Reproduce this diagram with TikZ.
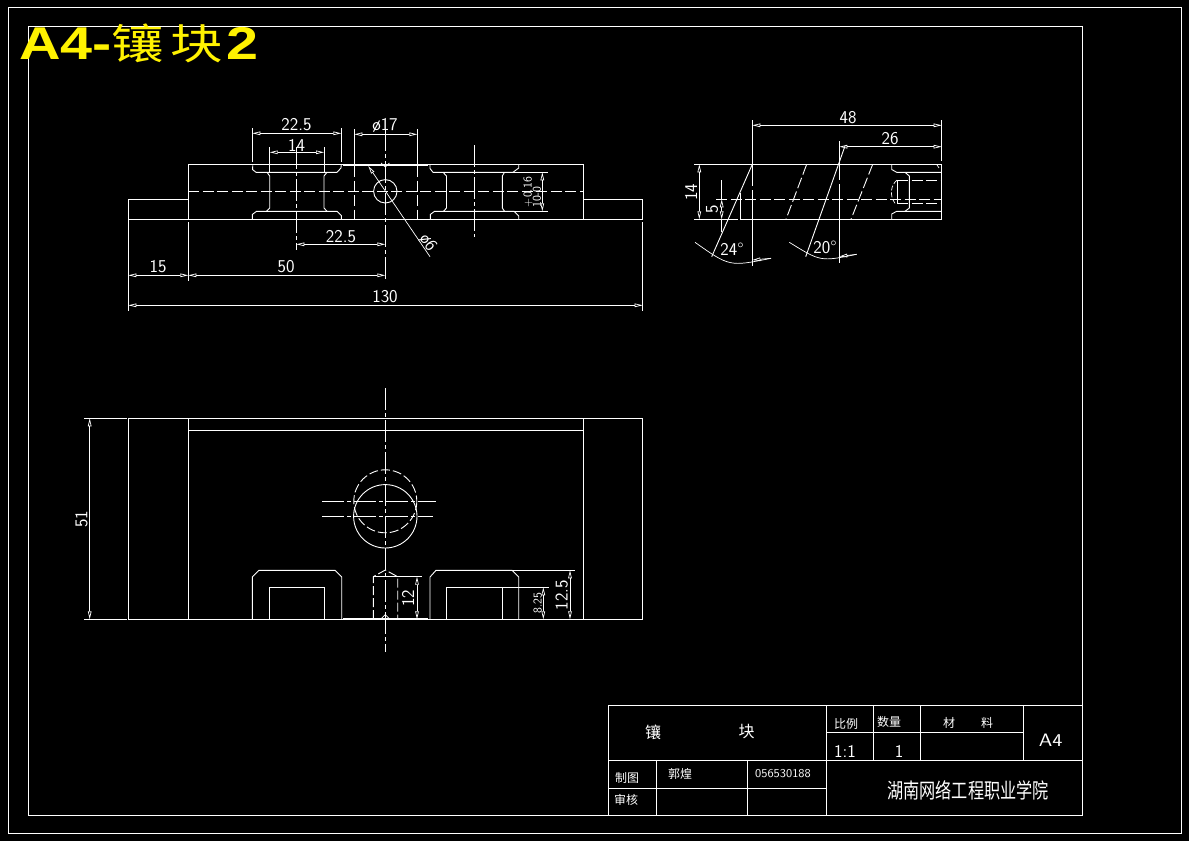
\documentclass[tikz,border=0pt]{standalone}
\usepackage{fontspec}
\usetikzlibrary{arrows.meta}
\newfontfamily\cjk{Noto Sans CJK SC}
\newfontfamily\cjkb{Noto Sans CJK SC}[BoldFont={Noto Sans CJK SC Bold}]
\newfontfamily\tibold{Liberation Sans Bold}
\setsansfont{Latin Modern Sans}
\tikzset{
  ln/.style={draw=white,line width=0.9pt},
  thin ln/.style={draw=white,line width=0.7pt},
  dsh/.style={ln,dash pattern=on 11pt off 3.5pt},
  ctr/.style={ln,dash pattern=on 22pt off 3pt on 4pt off 3pt},
  dim/.style={thin ln,{Triangle[open,length=8pt,width=3.6pt,line width=.7pt]}-{Triangle[open,length=8pt,width=3.6pt,line width=.7pt]}},
  txt/.style={text=white,inner sep=0pt,font=\sffamily\fontsize{18}{18}\selectfont},
  small/.style={text=white,inner sep=0pt,font=\sffamily\fontsize{12}{12}\selectfont},
  cn/.style={text=white,inner sep=0pt,font=\cjk\fontsize{14}{14}\selectfont},
}
\begin{document}
\begin{tikzpicture}[x=1pt,y=-1pt]
\fill[black] (0,0) rectangle (1189,841);
\useasboundingbox (0,0) rectangle (1189,841);
% frames
\draw[ln] (8,7) rectangle (1181,833);
\draw[ln] (28,26.5) rectangle (1082.3,815.5);

% ===== front view =====
\draw[ln] (128.3,219.3) -- (128.3,199.3) -- (188.3,199.3) -- (188.3,164.3) -- (583.3,164.3) -- (583.3,199.3) -- (642.7,199.3) -- (642.7,219.3) -- cycle;
\draw[ln] (188.3,199.3) -- (188.3,219.3) (583.3,199.3) -- (583.3,219.3);
\draw[ln,line width=1.1pt] (343,165.6) -- (428,165.6);
\draw[dsh] (188.3,191.3) -- (583.3,191.3);
% left pocket
\draw[ln] (252.5,186) (252.8,165.5) -- (252.5,169.5) -- (256,172.3) -- (337,172.3) -- (341,168) -- (341.3,164.3);
\draw[ln] (252.3,219.3) -- (252.3,214.5) -- (256.5,211.3) -- (337,211.3) -- (341.3,215.5) -- (341.3,219.3);
\draw[ln] (267,172.3) -- (269.7,176) -- (269.7,208) -- (266.5,211.3);
\draw[ln] (327,172.3) -- (324,176) -- (324,208) -- (327,211.3);
% right pocket
\draw[ln] (430,164.3) -- (430,168.5) -- (433,172.3) -- (513,172.3) -- (518.7,168) -- (518.7,164.3);
\draw[ln] (430.3,219.3) -- (430.3,214.5) -- (434.5,211.3) -- (514,211.3) -- (518.7,216) -- (518.7,219.3);
\draw[ln] (443,172.3) -- (446.5,176) -- (446.5,208) -- (443.5,211.3);
\draw[ln] (504.5,172.3) -- (502.3,176) -- (502.3,208) -- (504.5,211.3);
\draw[thin ln] (513,172.3) -- (547.7,172.3) (514,211.3) -- (547.7,211.3);
% centres and hole
\draw[ctr] (296.3,147) -- (296.3,250);
\draw[ctr] (474.3,145) -- (474.3,237);
\draw[ln] (385.3,191.3) circle (11.7);
\draw[dsh] (354.3,166) -- (354.3,219.3);
\draw[dsh] (417.3,166) -- (417.3,219.3);
\draw[ctr] (385.3,129) -- (385.3,281);
\draw[thin ln] (381,163) -- (385.3,167) -- (389.5,163);
% front dimensions
\draw[thin ln] (252.3,128) -- (252.3,162) (341.3,128) -- (341.3,162);
\draw[dim] (252.3,133.3) -- (341.3,133.3);
\node[txt] (fa) at (296.5,125) {22.5};
\draw[thin ln] (269.7,147) -- (269.7,172) (324,147) -- (324,172);
\draw[dim] (269.7,152.3) -- (324,152.3);
\node[txt] (fb) at (296.5,145) {14};
\draw[thin ln] (354.3,129) -- (354.3,164) (417.3,129) -- (417.3,164);
\draw[dim] (354.3,134.3) -- (417.3,134.3);
\node[txt] (fc) at (385,125) {ø17};
\draw[dim] (296.3,244.3) -- (385.3,244.3);
\node[txt] (fd) at (341,237) {22.5};
\draw[thin ln] (188.3,222) -- (188.3,281);
\draw[dim] (128.3,275.3) -- (188.3,275.3);
\node[txt] (fe) at (158,267) {15};
\draw[dim] (188.3,275.3) -- (385.3,275.3);
\node[txt] (ff) at (286,267) {50};
\draw[thin ln] (128.3,219.3) -- (128.3,311) (642.7,222) -- (642.7,311);
\draw[dim] (128.3,305.3) -- (642.7,305.3);
\node[txt] (fg) at (385,297) {130};
\draw[dim] (542.3,172.3) -- (542.3,211.3);
\node[small,rotate=90] (fh) at (528,192) {+0.16};
\node[small,rotate=90] (fi) at (537,197) {10-0};
\draw[thin ln,{Triangle[open,length=8pt,width=3.6pt,line width=.7pt]}-] (368.3,166) -- (430,256.7);
\node[txt,rotate=-55] (fj) at (428,243) {ø6};

% ===== side view =====
\draw[ln] (694,164.3) -- (941.7,164.3) -- (941.7,219.3) -- (740.3,219.3) -- (740.3,193);
\draw[thin ln] (694,219.3) -- (738,219.3);
\draw[ln] (752.3,120) -- (752.3,186) (752.3,190) -- (752.3,265.7);
\draw[ln] (839.3,141) -- (839.3,180) (839.3,184) -- (839.3,262.7);
\draw[ln] (941.7,120) -- (941.7,161);
\draw[dsh] (716,199.3) -- (941,199.3);
\draw[ln] (752.3,164.3) -- (711.7,256.7);
\draw[ln] (845,146) -- (805.7,256.7);
\draw[dsh] (806.7,164.3) -- (786,219.3);
\draw[dsh] (872.7,164.3) -- (851,219.3);
% side view right detail
\draw[ln] (891.7,164.3) -- (891.7,169.5) -- (896.7,172.3) -- (941.7,172.3);
\draw[ln] (891.7,219.3) -- (891.7,214) -- (896.7,211.3) -- (941.7,211.3);
\draw[ln] (905,172.3) -- (909.3,176) -- (909.3,208) -- (905,211.3);
\draw[dsh] (897,180) -- (941.7,180);
\draw[dsh] (897,203.3) -- (941.7,203.3);
\draw[thin ln,dash pattern=on 5pt off 2pt] (897,180) .. controls (891,185) and (889,195) .. (895,203.3);
\draw[thin ln] (897,180) -- (897,203.3);
\draw[thin ln] (937,165) -- (939,168);
% side arcs
\draw[thin ln] (695,242.3) .. controls (729.5,266.7) .. (771,258.3);
\draw[thin ln] (789.3,242.3) .. controls (820.6,261.7) .. (856.7,254.3);
% side dimensions
\draw[dim] (752.3,125.3) -- (941.7,125.3);
\node[txt] (sa) at (848,118) {48};
\draw[dim] (839.3,146.7) -- (941.7,146.7);
\node[txt] (sb) at (890,139) {26};
\draw[dim] (699.3,164.3) -- (699.3,219.3);
\node[txt,rotate=90] (sc) at (691,192) {14};
\draw[thin ln] (721.7,180) -- (721.7,199.3);
\draw[dim] (721.7,199.3) -- (721.7,219.3);
\draw[thin ln] (721.7,219.3) -- (721.7,232);
\node[txt,rotate=90] (sd) at (712,209) {5};
\node[txt] (se) at (732,249) {24°};
\node[txt] (sf) at (825,247) {20°};
\draw[thin ln,-{Triangle[open,length=8pt,width=3.6pt,line width=.7pt]}] (771,258.3) -- (752.3,260);
\draw[thin ln,-{Triangle[open,length=8pt,width=3.6pt,line width=.7pt]}] (856.7,254.3) -- (839.3,256.5);

% ===== plan view =====
\draw[ln] (128.3,418.3) rectangle (642.5,619.3);
\draw[ln] (188.3,418.3) -- (188.3,619.3) (583.3,418.3) -- (583.3,619.3);
\draw[ln] (188.3,430.3) -- (583.3,430.3);
\draw[thin ln] (84,418.3) -- (127,418.3) (84,619.3) -- (127,619.3);
\draw[dim] (89.7,418.3) -- (89.7,619.3);
\node[txt,rotate=90] (pa) at (81.5,519) {51};
% pockets
\draw[ln] (252.3,619.3) -- (252.3,577) -- (259,570.3) -- (335,570.3) -- (341.7,577) -- (341.7,619.3);
\draw[ln] (269.3,619.3) -- (269.3,587.3) -- (324.3,587.3) -- (324.3,619.3);
\draw[ln] (430,619.3) -- (430,577) -- (436,570.3) -- (512,570.3) -- (518.7,577) -- (518.7,619.3);
\draw[ln] (446.3,619.3) -- (446.3,587.3) -- (502.3,587.3) -- (502.3,619.3);
\draw[thin ln] (502.3,587.3) -- (549,587.3) (512,570.3) -- (575,570.3);
\draw[ln,line width=1.1pt] (343,618.5) -- (428,618.5);
% holes
\draw[ln] (385.3,516.3) circle (31.7);
\draw[dsh,dash pattern=on 9pt off 3pt] (385.3,501.3) circle (31.5);
\draw[ctr] (322.3,501.3) -- (436,501.3);
\draw[ctr] (322.3,516.3) -- (432.7,516.3);
\draw[ctr] (385.3,388) -- (385.3,651.7);
% drill
\draw[dsh,dash pattern=on 9pt off 3pt] (373.3,619) -- (373.3,576.7) -- (385.3,570) -- (397.7,576.7) -- (397.7,619);
\draw[thin ln] (373.3,576.7) -- (421.7,576.7);
\draw[thin ln] (381,619) -- (385.3,614.5) -- (389.5,619);
% plan dimensions
\draw[dim] (417,576.7) -- (417,619.3);
\node[txt,rotate=90] (pb) at (408,598) {12};
\draw[dim] (543.3,587.3) -- (543.3,619.3);
\node[small,rotate=90] (pc) at (537.7,603) {8.25};
\draw[dim] (570,570.3) -- (570,619.3);
\node[txt,rotate=90] (pd) at (561.7,595) {12.5};

% ===== title block =====
\draw[ln] (608.3,705.7) rectangle (1082.3,815.5);
\draw[ln] (826.7,705.7) -- (826.7,815.5);
\draw[ln] (608.3,760.3) -- (1082.3,760.3);
\draw[ln] (873.3,705.7) -- (873.3,760.3) (920.7,705.7) -- (920.7,760.3) (1023.3,705.7) -- (1023.3,760.3);
\draw[ln] (826.7,732.3) -- (1023.3,732.3);
\draw[ln] (656.7,760.3) -- (656.7,815.5) (747.7,760.3) -- (747.7,815.5);
\draw[ln] (608.3,788.3) -- (826.7,788.3);
\node[cn] (ta) at (653,732) {\fontsize{16}{16}\selectfont 镶};
\node[cn] (tb) at (746.7,732) {\fontsize{16}{16}\selectfont 块};
\node[cn,font=\cjk\fontsize{12}{12}\selectfont] (tc) at (846,724) {比例};
\node[cn,font=\cjk\fontsize{12}{12}\selectfont] (td) at (889,722) {数量};
\node[cn,font=\cjk\fontsize{12}{12}\selectfont] (te) at (949,723) {材};
\node[cn,font=\cjk\fontsize{12}{12}\selectfont] (tf) at (987,723) {料};
\node[txt] (tg) at (845,751) {1:1};
\node[txt] (th) at (899,751) {1};
\node[txt] (ti) at (1050.7,740) {\scalebox{1.2}[1]{A4}};
\node[cn,font=\cjk\fontsize{12}{12}\selectfont] (tj) at (627,778) {制图};
\node[cn,font=\cjk\fontsize{12}{12}\selectfont] (tk) at (626,800) {审核};
\node[cn,font=\cjk\fontsize{12}{12}\selectfont] (tl) at (680,774) {郭煌};
\node[small] (tm) at (783,774) {\scalebox{1.05}[1]{056530188}};
\node[cn,font=\cjk\fontsize{19}{19}\selectfont] (tn) at (968,790) {\scalebox{.85}[1.1]{湖南网络工程职业学院}};

% ===== yellow title =====
\node[anchor=base west,inner sep=0pt,text=yellow] (title) at (19,59) {\scalebox{1.25}[1]{\tibold\fontsize{46}{46}\selectfont A4-\cjk\fontsize{42}{42}\selectfont 镶\hspace{5pt}块\hspace{3pt}\tibold\fontsize{46}{46}\selectfont 2}};
\end{tikzpicture}
\end{document}
